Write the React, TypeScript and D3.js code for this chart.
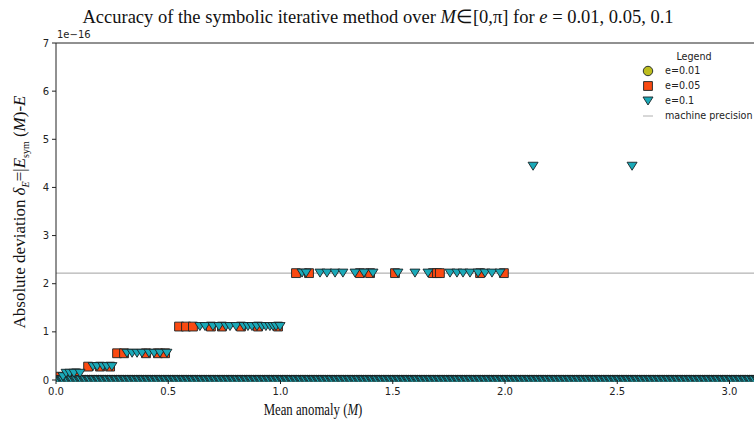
import React from "react";
import * as d3 from "d3";

const W = 754, H = 423;
const xTicks = [0, 0.5, 1.0, 1.5, 2.0, 2.5, 3.0];
const yTicks = [0, 1, 2, 3, 4, 5, 6, 7];
const machinePrecision = 2.22; // ×1e-16

// M samples where the deviation is exactly zero (all three eccentricities)
const zeroM = [
  0.00,0.01,0.02,0.03,0.04,0.05,0.06,0.07,0.08,0.09,0.10,0.11,0.12,0.13,0.14,0.15,0.16,0.17,0.18,0.19,
  0.20,0.21,0.22,0.23,0.24,0.25,0.26,0.27,0.28,0.29,0.30,0.31,0.32,0.33,0.34,0.35,0.36,0.37,0.38,0.39,
  0.40,0.41,0.42,0.43,0.44,0.45,0.46,0.47,0.48,0.49,0.50,0.51,0.52,0.53,0.54,0.55,0.56,0.57,0.58,0.59,
  0.60,0.61,0.62,0.63,0.64,0.65,0.66,0.67,0.68,0.69,0.70,0.71,0.72,0.73,0.74,0.75,0.76,0.77,0.78,0.79,
  0.80,0.81,0.82,0.83,0.84,0.85,0.86,0.87,0.88,0.89,0.90,0.91,0.92,0.93,0.94,0.95,0.96,0.97,0.98,0.99,
  1.00,1.01,1.02,1.03,1.04,1.05,1.06,1.07,1.08,1.09,1.10,1.11,1.12,1.13,1.14,1.15,1.16,1.17,1.18,1.19,
  1.20,1.21,1.22,1.23,1.24,1.25,1.26,1.27,1.28,1.29,1.30,1.31,1.32,1.33,1.34,1.35,1.36,1.37,1.38,1.39,
  1.40,1.41,1.42,1.43,1.44,1.45,1.46,1.47,1.48,1.49,1.50,1.51,1.52,1.53,1.54,1.55,1.56,1.57,1.58,1.59,
  1.60,1.61,1.62,1.63,1.64,1.65,1.66,1.67,1.68,1.69,1.70,1.71,1.72,1.73,1.74,1.75,1.76,1.77,1.78,1.79,
  1.80,1.81,1.82,1.83,1.84,1.85,1.86,1.87,1.88,1.89,1.90,1.91,1.92,1.93,1.94,1.95,1.96,1.97,1.98,1.99,
  2.00,2.01,2.02,2.03,2.04,2.05,2.06,2.07,2.08,2.09,2.10,2.11,2.12,2.13,2.14,2.15,2.16,2.17,2.18,2.19,
  2.20,2.21,2.22,2.23,2.24,2.25,2.26,2.27,2.28,2.29,2.30,2.31,2.32,2.33,2.34,2.35,2.36,2.37,2.38,2.39,
  2.40,2.41,2.42,2.43,2.44,2.45,2.46,2.47,2.48,2.49,2.50,2.51,2.52,2.53,2.54,2.55,2.56,2.57,2.58,2.59,
  2.60,2.61,2.62,2.63,2.64,2.65,2.66,2.67,2.68,2.69,2.70,2.71,2.72,2.73,2.74,2.75,2.76,2.77,2.78,2.79,
  2.80,2.81,2.82,2.83,2.84,2.85,2.86,2.87,2.88,2.89,2.90,2.91,2.92,2.93,2.94,2.95,2.96,2.97,2.98,2.99,
  3.00,3.01,3.02,3.03,3.04,3.05,3.06,3.07,3.08,3.09,3.10,3.11,3.12,3.13,3.14
];

// further zero-deviation samples of e = 0.1 lying between the ones above
const zeroM10 = [
  0.005,0.025,0.045,0.065,0.085,0.105,0.125,0.145,0.165,0.185,0.205,0.225,0.245,0.265,0.285,0.305,0.325,0.345,0.365,0.385,
  0.405,0.425,0.445,0.465,0.485,0.505,0.525,0.545,0.565,0.585,0.605,0.625,0.645,0.665,0.685,0.705,0.725,0.745,0.765,0.785,
  0.805,0.825,0.845,0.865,0.885,0.905,0.925,0.945,0.965,0.985,1.005,1.025,1.045,1.065,1.085,1.105,1.125,1.145,1.165,1.185,
  1.205,1.225,1.245,1.265,1.285,1.305,1.325,1.345,1.365,1.385,1.405,1.425,1.445,1.465,1.485,1.505,1.525,1.545,1.565,1.585,
  1.605,1.625,1.645,1.665,1.685,1.705,1.725,1.745,1.765,1.785,1.805,1.825,1.845,1.865,1.885,1.905,1.925,1.945,1.965,1.985,
  2.005,2.025,2.045,2.065,2.085,2.105,2.125,2.145,2.165,2.185,2.205,2.225,2.245,2.265,2.285,2.305,2.325,2.345,2.365,2.385,
  2.405,2.425,2.445,2.465,2.485,2.505,2.525,2.545,2.565,2.585,2.605,2.625,2.645,2.665,2.685,2.705,2.725,2.745,2.765,2.785,
  2.805,2.825,2.845,2.865,2.885,2.905,2.925,2.945,2.965,2.985,3.005,3.025,3.045,3.065,3.085,3.105,3.125
];

// e = 0.05 nonzero deviations
const m05 = [0.009, 0.089, 0.143, 0.196, 0.241, 0.272, 0.303, 0.401, 0.454, 0.486, 0.548, 0.579, 0.610, 0.690, 0.739, 0.824, 0.900, 0.989, 1.069, 1.127, 1.354, 1.399, 1.510, 1.679, 1.697, 1.710, 1.889, 1.995];
const d05 = [0.069, 0.139, 0.278, 0.278, 0.278, 0.555, 0.555, 0.555, 0.555, 0.555, 1.11, 1.11, 1.11, 1.11, 1.11, 1.11, 1.11, 1.11, 2.22, 2.22, 2.22, 2.22, 2.22, 2.22, 2.22, 2.22, 2.22, 2.22];

// e = 0.1 nonzero deviations
const m10 = [0.031, 0.045, 0.062, 0.080, 0.107, 0.165, 0.183, 0.209, 0.227, 0.249, 0.316, 0.339, 0.361, 0.383, 0.414, 0.437, 0.463, 0.494, 0.641, 0.664, 0.699, 0.726, 0.757, 0.775, 0.802, 0.837, 0.855, 0.873, 0.895, 0.918, 0.935, 0.953, 0.967, 0.980, 0.998, 1.096, 1.114, 1.176, 1.207, 1.243, 1.278, 1.332, 1.372, 1.412, 1.523, 1.599, 1.657, 1.755, 1.786, 1.813, 1.844, 1.880, 1.911, 1.942, 1.978, 2.125, 2.566];
const d10 = [0.069, 0.139, 0.139, 0.139, 0.139, 0.278, 0.278, 0.278, 0.278, 0.278, 0.555, 0.555, 0.555, 0.555, 0.555, 0.555, 0.555, 0.555, 1.11, 1.11, 1.11, 1.11, 1.11, 1.11, 1.11, 1.11, 1.11, 1.11, 1.11, 1.11, 1.11, 1.11, 1.11, 1.11, 1.11, 2.22, 2.22, 2.22, 2.22, 2.22, 2.22, 2.22, 2.22, 2.22, 2.22, 2.22, 2.22, 2.22, 2.22, 2.22, 2.22, 2.22, 2.22, 2.22, 2.22, 4.44, 4.44];

const C01 = "#bdbd1e", C05 = "#fa4a12", C10 = "#1aa9b8";
const EDGE = "#1a2426";
const EW = 0.9;

const M = { left: 56, top: 43, bottom: 380 };

export default function App() {
  const x = d3.scaleLinear().domain([0, Math.PI]).range([M.left, M.left + 224.5 * Math.PI]);
  const y = d3.scaleLinear().domain([0, 7]).range([M.bottom, M.top]);

  const sq = d3.symbol().type(d3.symbolSquare).size(78)();
  const circ = d3.symbol().type(d3.symbolCircle).size(70)();
  const tri = "M-5,-4L5,-4L0,4Z";

  const pts01 = zeroM.map((m) => ({ m, d: 0 }));
  const pts05 = zeroM.map((m) => ({ m, d: 0 })).concat(m05.map((m, i) => ({ m, d: d05[i] })));
  const pts10 = zeroM.concat(zeroM10).sort((a, b) => a - b).map((m) => ({ m, d: 0 }))
    .concat(m10.map((m, i) => ({ m, d: d10[i] })));

  const sans = "DejaVu Sans, sans-serif";
  const serif = "Liberation Serif, Times New Roman, serif";

  return (
    <svg width={W} height={H} style={{ position: "absolute", left: 0, top: 0, background: "#fff" }}>
      <defs>
        <clipPath id="plotclip">
          <rect x={M.left} y={M.top - 10} width={W - M.left} height={M.bottom - M.top + 11.5} />
        </clipPath>
      </defs>
      <text x={378} y={23} textAnchor="middle" fontFamily={serif} fontSize={18.5} fill="#111">
        Accuracy of the symbolic iterative method over <tspan fontStyle="italic">M</tspan>∈[0,π] for <tspan fontStyle="italic">e</tspan> = 0.01, 0.05, 0.1
      </text>

      {/* machine precision line */}
      <line x1={M.left} x2={W} y1={y(machinePrecision)} y2={y(machinePrecision)} stroke="#a0a0a0" strokeWidth={1} />

      <g clipPath="url(#plotclip)">
        {pts01.map((p, i) => (
          <path key={"a" + i} d={circ} transform={`translate(${x(p.m)},${y(p.d)})`} fill={C01} stroke={EDGE} strokeWidth={EW} />
        ))}
        {pts05.map((p, i) => (
          <path key={"b" + i} d={sq} transform={`translate(${x(p.m)},${y(p.d)})`} fill={C05} stroke={EDGE} strokeWidth={EW} />
        ))}
        {pts10.map((p, i) => (
          <path key={"c" + i} d={tri} transform={`translate(${x(p.m)},${y(p.d)})`} fill={C10} stroke={EDGE} strokeWidth={EW} />
        ))}
      </g>

      {/* spines */}
      <line x1={M.left} x2={W} y1={M.top} y2={M.top} stroke="#222" strokeWidth={1} />
      <line x1={M.left} x2={M.left} y1={M.top} y2={M.bottom} stroke="#222" strokeWidth={1} />

      {/* y ticks */}
      {yTicks.map((t) => (
        <g key={"y" + t}>
          <line x1={M.left - 4} x2={M.left} y1={y(t)} y2={y(t)} stroke="#222" />
          <text x={M.left - 7} y={y(t)} dy="0.35em" textAnchor="end" fontFamily={sans} fontSize={10} fill="#222">{t}</text>
        </g>
      ))}
      <text x={M.left + 1} y={38} fontFamily={sans} fontSize={10} fill="#222">1e−16</text>

      {/* x ticks */}
      {xTicks.map((t) => (
        <g key={"x" + t}>
          <line x1={x(t)} x2={x(t)} y1={M.bottom} y2={M.bottom + 4} stroke="#222" />
          <text x={x(t)} y={M.bottom + 15} textAnchor="middle" fontFamily={sans} fontSize={10} fill="#222">{t.toFixed(1)}</text>
        </g>
      ))}

      <g transform="translate(313,415) scale(0.8,1)">
        <text x={0} y={0} textAnchor="middle" fontFamily={serif} fontSize={16} fill="#111">
          Mean anomaly (<tspan fontStyle="italic">M</tspan>)
        </text>
      </g>

      <text transform="translate(25,212) rotate(-90)" textAnchor="middle" fontFamily={serif} fontSize={17} fill="#111">
        Absolute deviation <tspan fontStyle="italic">δ</tspan><tspan fontStyle="italic" fontSize={10} dy={4}>E</tspan><tspan dy={-4}>=|</tspan><tspan fontStyle="italic">E</tspan><tspan fontSize={10} dy={4}>sym</tspan><tspan dy={-4}> (</tspan><tspan fontStyle="italic">M</tspan>)-<tspan fontStyle="italic">E</tspan>
      </text>

      {/* legend */}
      <g fontFamily={sans} fontSize={9.6} fill="#222">
        <text x={694} y={60} textAnchor="middle">Legend</text>
        <path d={circ} transform="translate(648,71)" fill={C01} stroke={EDGE} strokeWidth={EW} />
        <text x={665} y={71} dy="0.35em">e=0.01</text>
        <path d={sq} transform="translate(648,86)" fill={C05} stroke={EDGE} strokeWidth={EW} />
        <text x={665} y={86} dy="0.35em">e=0.05</text>
        <path d="M-5,-4L5,-4L0,4Z" transform="translate(648,101)" fill={C10} stroke={EDGE} strokeWidth={EW} />
        <text x={665} y={101} dy="0.35em">e=0.1</text>
        <line x1={643} x2={653} y1={116} y2={116} stroke="#b0b0b0" strokeWidth={1} />
        <text x={665} y={116} dy="0.35em">machine precision</text>
      </g>
    </svg>
  );
}
